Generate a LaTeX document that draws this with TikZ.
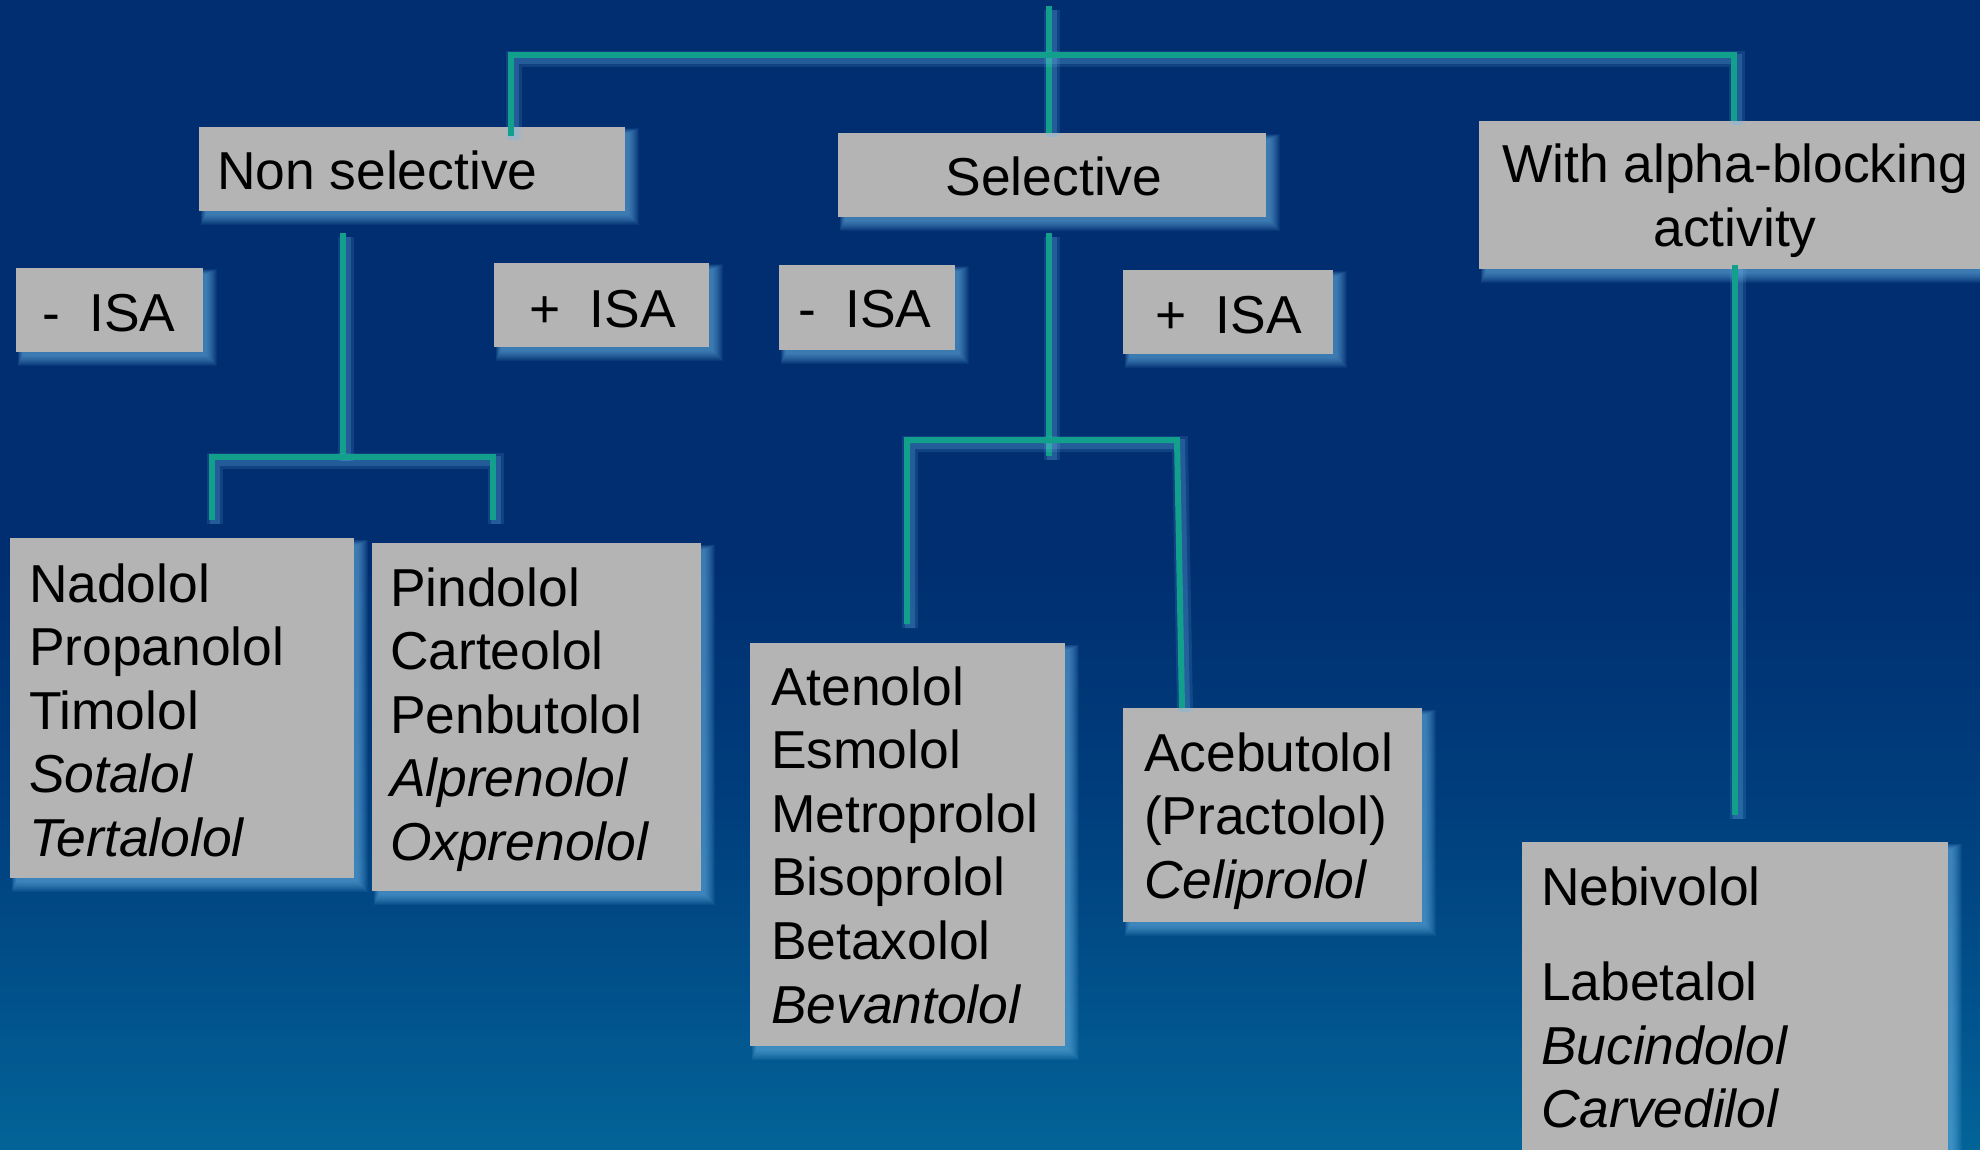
\documentclass[tikz,border=0pt]{standalone}
\usepackage{fontspec}
\setmainfont{Liberation Sans}
\usetikzlibrary{calc}
\definecolor{bgtop}{RGB}{0,46,112}
\definecolor{bgb3}{RGB}{0,62,125}
\definecolor{bgb2}{RGB}{1,82,140}
\definecolor{bgbot}{RGB}{3,100,152}
\definecolor{boxgray}{RGB}{180,180,180}
\definecolor{linec}{RGB}{18,160,140}
\definecolor{glowc}{RGB}{110,185,235}
\pgfdeclareverticalshading{bgshade}{100bp}{color(0bp)=(bgbot); color(25bp)=(bgbot); color(31.5bp)=(bgb2); color(40bp)=(bgb3); color(51bp)=(bgtop); color(100bp)=(bgtop)}
\tikzset{
  box/.style={fill=boxgray, draw=none, inner sep=0pt, outer sep=0pt},
  txt/.style={inner sep=0pt, outer sep=0pt, font=\fontsize{26.7}{31.8}\selectfont, text=black},
  conn/.style={draw=linec, line width=3pt,
    preaction={draw=glowc, line width=8pt, opacity=0.15, transform canvas={shift={(1.5pt,-2pt)}}},
    preaction={draw=glowc, line width=5pt, opacity=0.22, transform canvas={shift={(1.5pt,-2pt)}}}}
}
\newcommand\mybox[5]{%
  \foreach \k in {1,...,11}{\fill[glowc,opacity=0.075] ({#2+7-0.5*\k},{#3+7-0.5*\k}) rectangle ({#4+3+\k},{#5+3+\k});}
  \node[box, anchor=north west, minimum width={(#4-#2)*0.5pt}, minimum height={(#5-#3)*0.5pt}] (#1) at (#2,#3) {};
}
\begin{document}
\begin{tikzpicture}[x=0.5pt,y=-0.5pt]
\useasboundingbox (0,0) rectangle (1980,1150);
\shade[shading=bgshade] (0,0) rectangle (1980,1150);

% boxes
\mybox{nonsel}{199}{127}{625}{211}
\mybox{sel}{838}{133}{1266}{217}
\mybox{alpha}{1479}{121}{1995}{269}
\mybox{isaA}{16}{268}{203}{352}
\mybox{isaB}{494}{263}{709}{347}
\mybox{isaC}{779}{265}{955}{350}
\mybox{isaD}{1123}{270}{1333}{354}
\mybox{nad}{10}{538}{354}{878}
\mybox{pin}{372}{543}{701}{891}
\mybox{ate}{750}{643}{1065}{1046}
\mybox{ace}{1123}{708}{1422}{922}
\mybox{neb}{1522}{842}{1948}{1175}

% texts
\node[txt,anchor=base west] (nonselT) at (217,190) {Non selective};
\node[txt,anchor=base] (selT) at (1054,196) {Selective};
\node[txt,anchor=base] (alphaT) at (1735,183) {\vtop{\hbox to 0pt{\hss With alpha-blocking\hss}\hbox to 0pt{\hss activity\hss}}};
\node[txt,anchor=base west] (isaAT) at (42,331) {-\ \ ISA};
\node[txt,anchor=base west] (isaBT) at (529,327) {+\ \ ISA};
\node[txt,anchor=base west] (isaCT) at (798,328) {-\ \ ISA};
\node[txt,anchor=base west] (isaDT) at (1155,333) {+\ \ ISA};
\node[txt,anchor=base west] (nadT) at (29,602) {\vtop{\hbox{Nadolol}\hbox{Propanolol}\hbox{Timolol}\hbox{\itshape Sotalol}\hbox{\itshape Tertalolol}}};
\node[txt,anchor=base west] (pinT) at (390,606) {\vtop{\hbox{Pindolol}\hbox{Carteolol}\hbox{Penbutolol}\hbox{\itshape Alprenolol}\hbox{\itshape Oxprenolol}}};
\node[txt,anchor=base west] (ateT) at (771,705) {\vtop{\hbox{Atenolol}\hbox{Esmolol}\hbox{Metroprolol}\hbox{Bisoprolol}\hbox{Betaxolol}\hbox{\itshape Bevantolol}}};
\node[txt,anchor=base west] (aceT) at (1144,771) {\vtop{\hbox{Acebutolol}\hbox{(Practolol)}\hbox{\itshape Celiprolol}}};
\node[txt,anchor=base west] (nebT) at (1541,905) {\vtop{\hbox{Nebivolol}\vskip16pt\hbox{Labetalol}\hbox{\itshape Bucindolol}\hbox{\itshape Carvedilol}}};

% connector points
\coordinate (topT) at (1049,6);
\coordinate (hL) at (511,55);
\coordinate (hR) at (1734,55);
\coordinate (nsS) at (343,233);
\coordinate (nsJ) at (343,457);
\coordinate (nsL) at (212,457);
\coordinate (nsR) at (493,457);
\coordinate (nsLe) at (212,520);
\coordinate (nsRe) at (493,520);
\coordinate (sS) at (1049,233);
\coordinate (sJ) at (1049,456);
\coordinate (sL) at (907,440);
\coordinate (sR) at (1177,440);
\coordinate (sLe) at (907,624);
\coordinate (sRe) at (1182,708);
\coordinate (aE) at (1735,815);

% connectors
\draw[conn] (topT) -- (sel.north -| topT);
\draw[conn] ($(hL |- nonsel.north)+(0,9)$) -- (hL) -- (hR) -- (hR |- alpha.north);
\draw[conn] (nsS) -- (nsJ);
\draw[conn] (nsLe) -- (nsL) -- (nsR) -- (nsRe);
\draw[conn] (sS) -- (sJ);
\draw[conn] (sLe) -- (sL) -- (sR) -- (sRe);
\draw[conn] ($(alpha.south -| aE)+(0,-4)$) -- (aE);
\end{tikzpicture}
\end{document}
